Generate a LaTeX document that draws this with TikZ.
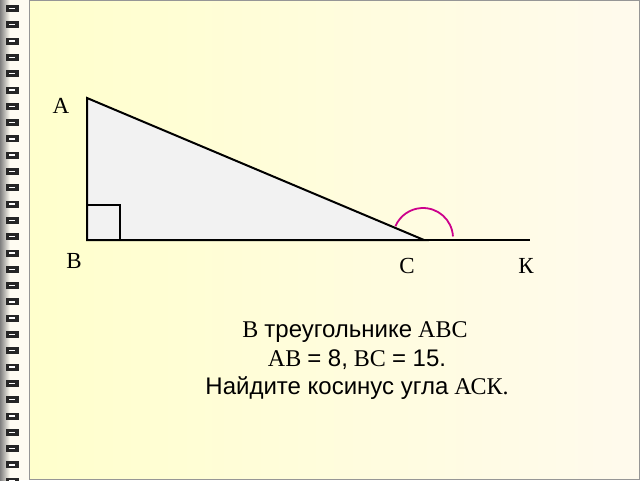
\documentclass[tikz,border=0pt]{standalone}
\usepackage{fontspec}
\setmainfont{Liberation Serif}
\newfontfamily\sansRu{Liberation Sans}
\usetikzlibrary{positioning}
\tikzstyle{slide} = [x = 1pt, y = -1pt]
\definecolor{paperLeft}{RGB}{255,255,204}
\definecolor{paperRight}{RGB}{255,250,237}
\definecolor{stripColor}{RGB}{255,252,242}
\definecolor{frameColor}{RGB}{150,150,150}
\definecolor{arcColor}{RGB}{204,0,140}
\definecolor{triangleFill}{RGB}{242,242,242}
\tikzstyle{sideLine} = [color=black, line width=2pt]
\tikzstyle{angleArc} = [color=arcColor, line width=1.8pt]
\tikzstyle{vertexText} = [font=\fontsize{23}{27}\selectfont, inner sep=0pt, anchor=base]
\tikzstyle{taskText} = [font=\fontsize{24}{28}\selectfont, inner sep=0pt, anchor=base]
\newcommand{\ringGap}{16.3}
\newcommand{\spiralRing}[1]{
  \fill [black!85] (6, #1 - 3) rectangle + (13, 7);
  \fill [white] (9, #1 - 0.3) rectangle + (6, 1.4);
}
\newcommand{\spiralStrip}[1]{
  \fill [stripColor] (0,0) rectangle (29,480);
  \shade [left color=black!50, right color=stripColor] (0,0) rectangle (10,480);
  \foreach \ring in {0,...,#1} {
    \pgfmathsetmacro{\var}{8 + \ring * \ringGap}
    \spiralRing{\var}
  }
}

\begin{document}
\begin{tikzpicture}[slide]
  \useasboundingbox (0,0) rectangle (640,480);
  \spiralStrip{29}
  \shade [left color=paperLeft, right color=paperRight] (29,0) rectangle (639,479);
  \draw [frameColor, line width=1pt] (29,0.5) -- (639,0.5) -- (639,479) -- (29,479) -- cycle;

  \coordinate (A) at (87,98);
  \coordinate (B) at (87,240);
  \coordinate (C) at (424,240);
  \coordinate (K) at (530,240);
  \coordinate (arcCenter) at (423,238);

  \filldraw [sideLine, fill=triangleFill] (A) -- (B) -- (C) -- cycle;
  \draw [sideLine] (C) -- (K);
  \draw [sideLine] ([yshift=35pt]B) -| ([xshift=33pt]B);
  \draw [angleArc] ([shift={(29.96,-1.57)}]arcCenter) arc [start angle=3, end angle=157, radius=30pt];

  \node (labelA) [vertexText] at (61,113) {А};
  \node (labelB) [vertexText] at (74,268) {В};
  \node (labelC) [vertexText] at (407,273) {С};
  \node (labelK) [vertexText] at (526,273) {К};

  \node (taskOne) [taskText] at (355,337) {В {\sansRu треугольнике} АВС};
  \node (taskTwo) [taskText] at (357,366) {АВ {\sansRu = 8,} ВС {\sansRu = 15.}};
  \node (taskThree) [taskText] at (357,394) {{\sansRu Найдите косинус угла} АСК.};
\end{tikzpicture}
\end{document}
